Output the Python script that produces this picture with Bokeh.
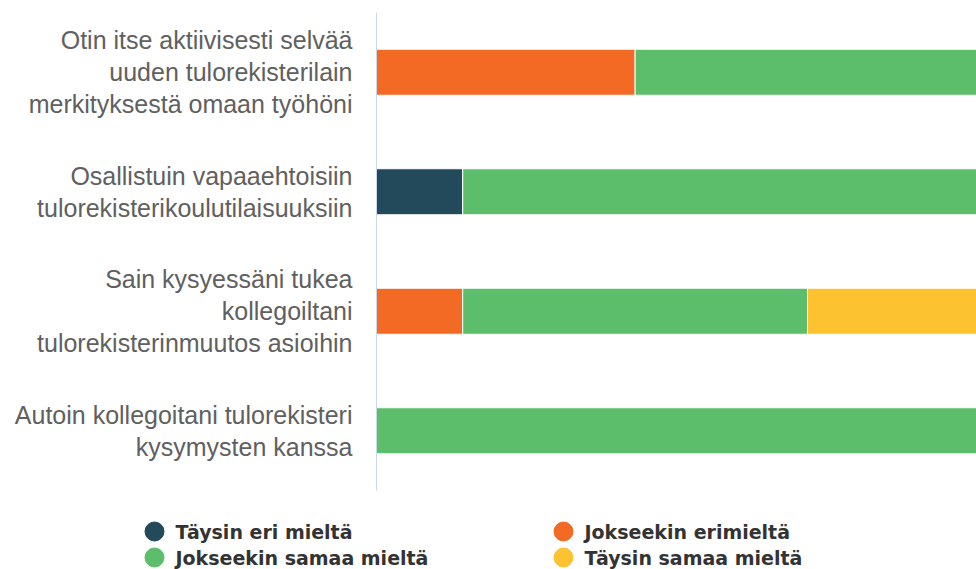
from bokeh.plotting import figure
from bokeh.models import ColumnDataSource, FactorRange, Range1d
from bokeh.core.properties import value
from bokeh.embed import file_html
from bokeh.resources import INLINE

questions = [
    "Otin itse aktiivisesti selvää\nuuden tulorekisterilain\nmerkityksestä omaan työhöni",
    "Osallistuin vapaaehtoisiin\ntulorekisterikoulutilaisuuksiin",
    "Sain kysyessäni tukea\nkollegoiltani\ntulorekisterinmuutos asioihin",
    "Autoin kollegoitani tulorekisteri\nkysymysten kanssa",
]
series = ["Täysin eri mieltä", "Jokseekin erimieltä", "Jokseekin samaa mieltä", "Täysin samaa mieltä"]
taysin_eri = [0, 1, 0, 0]
jokseekin_eri = [3, 0, 1, 0]
jokseekin_samaa = [4, 6, 4, 7]
taysin_samaa = [0, 0, 2, 0]
colors = ["#224a5a", "#f26a24", "#5cbd6b", "#fdc22f"]

keys = ["s0", "s1", "s2", "s3"]
source = ColumnDataSource(dict(q=questions, s0=taysin_eri, s1=jokseekin_eri,
                               s2=jokseekin_samaa, s3=taysin_samaa))

W = 976
p = figure(width=W, height=495, output_backend="svg", toolbar_location=None,
           y_range=FactorRange(factors=list(reversed(questions))),
           x_range=Range1d(0, 6.96),
           min_border_left=376, min_border_right=0, min_border_top=12, min_border_bottom=5)
p.hbar_stack(keys, y="q", height=0.385, color=colors, source=source,
             line_color="white", line_width=1)
p.xaxis.visible = False
p.xgrid.visible = False
p.ygrid.visible = False
p.outline_line_color = None
ax = p.yaxis[0]
ax.axis_line_color = "#ccd6eb"
ax.axis_line_width = 1
ax.major_tick_line_color = None
ax.major_tick_out = 0
ax.major_tick_in = 0
ax.minor_tick_line_color = None
ax.major_label_standoff = 24
ax.major_label_text_font = "Liberation Sans"
ax.major_label_text_font_size = "25px"
ax.major_label_text_color = "#606060"
ax.major_label_text_line_height = 1.15
ax.major_label_text_align = "right"

# legend panel (separate root, so its frame is not aligned to the chart's)
lg = figure(width=W, height=74, output_backend="svg", toolbar_location=None,
            x_range=Range1d(0, W), y_range=Range1d(74, 0),
            min_border=0)
lg.axis.visible = False
lg.grid.visible = False
lg.outline_line_color = None
col_x = [154, 563]
row_y = [36, 62]
mx = [col_x[i % 2] for i in range(4)]
my = [row_y[i // 2] for i in range(4)]
tx = [x + 21 for x in mx]
lsrc = ColumnDataSource(dict(mx=mx, my=my, tx=tx, name=series, color=colors))
lg.scatter("mx", "my", source=lsrc, size=19, color="color", marker="circle")
lg.text("tx", "my", text="name", source=lsrc, text_font=value("DejaVu Sans"),
        text_font_style="bold", text_font_size="19px", text_color="#333333",
        text_baseline="middle")

open("out.html", "w").write(file_html((p, lg), INLINE))
